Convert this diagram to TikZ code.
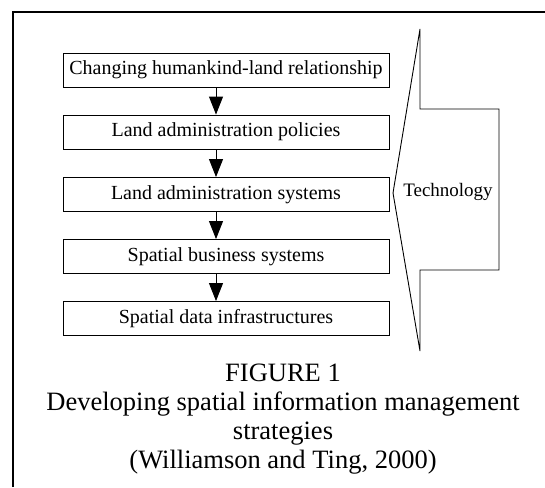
\documentclass[tikz,border=0pt]{standalone}
\usepackage{fontspec}
\setmainfont{Liberation Serif}
\usetikzlibrary{arrows.meta}
\begin{document}
\begin{tikzpicture}[x=1pt,y=-1pt,
  stepbox/.style={draw,line width=0.9pt,minimum width=326pt,minimum height=34pt,inner sep=0pt,
    font=\fontsize{20}{22}\selectfont},
  arr/.style={line width=0.9pt,-{Triangle[width=14pt,length=18pt]}},
  captext/.style={anchor=base,inner sep=0pt,font=\fontsize{26.5}{29}\selectfont}]
\useasboundingbox (0,0) rectangle (545,487);
% frame
\draw[line width=2pt] (13,487) -- (13,12) -- (545,12);
% boxes
\node[stepbox] (b1) at (226,70) {Changing humankind-land relationship};
\node[stepbox] (b2) at (226,132) {Land administration policies};
\node[stepbox] (b3) at (226,194.5) {Land administration systems};
\node[stepbox] (b4) at (226,256.5) {Spatial business systems};
\node[stepbox] (b5) at (226,318.5) {Spatial data infrastructures};
\foreach \a/\b in {b1/b2,b2/b3,b3/b4,b4/b5}
  \draw[arr] ([xshift=-10pt]\a.south) -- ([xshift=-10pt]\b.north);
% technology arrow shape
\draw[line width=0.9pt,line join=miter] (420,29) -- (420,109) -- (499,109) -- (499,270) -- (420,270) -- (420,351) -- (393,193) -- cycle;
\node[inner sep=0pt,anchor=base,font=\fontsize{19}{22}\selectfont] (tech) at (448,196) {Technology};
% caption
\node[captext] (c1) at (283,381) {FIGURE 1};
\node[captext] (c2) at (283,410) {Developing spatial information management};
\node[captext] (c3) at (283,439) {strategies};
\node[captext] (c4) at (283,468) {(Williamson and Ting, 2000)};
\end{tikzpicture}
\end{document}
